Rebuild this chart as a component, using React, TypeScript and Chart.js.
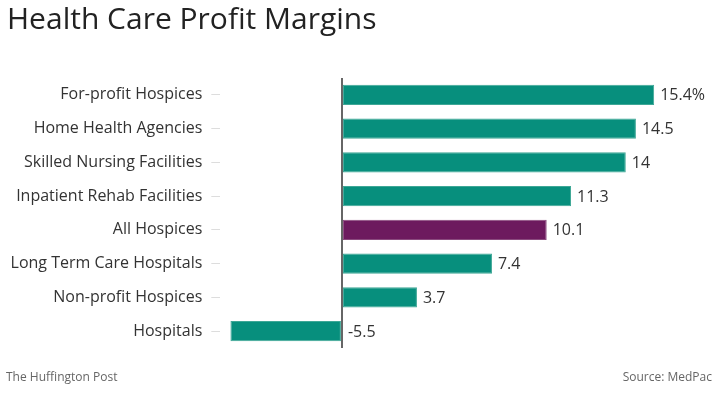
import React, { useEffect, useRef } from "react";
import { Chart, registerables } from "chart.js";

Chart.register(...registerables);

const categories = [
  "For-profit Hospices",
  "Home Health Agencies",
  "Skilled Nursing Facilities",
  "Inpatient Rehab Facilities",
  "All Hospices",
  "Long Term Care Hospitals",
  "Non-profit Hospices",
  "Hospitals",
];
const margins = [15.4, 14.5, 14, 11.3, 10.1, 7.4, 3.7, -5.5];
const valueLabels = ["15.4%", "14.5", "14", "11.3", "10.1", "7.4", "3.7", "-5.5"];
const highlighted = ["All Hospices"];

const TITLE = "Health Care Profit Margins";
const CREDIT = "The Huffington Post";
const SOURCE = "Source: MedPac";

const FONT = "'Open Sans', sans-serif";

export default function App() {
  const ref = useRef<HTMLCanvasElement | null>(null);

  useEffect(() => {
    if (!ref.current) return;
    const textPlugin = {
      id: "texts",
      afterDraw(chart: any) {
        const ctx = chart.ctx;
        ctx.save();
        // title
        ctx.fillStyle = "#222";
        ctx.font = `30px ${FONT}`;
        ctx.textAlign = "left";
        ctx.textBaseline = "alphabetic";
        ctx.fillText(TITLE, 7, 29);
        // footer
        ctx.fillStyle = "#666";
        ctx.font = `12px ${FONT}`;
        ctx.textBaseline = "middle";
        ctx.fillText(CREDIT, 6, 378);
        ctx.textAlign = "right";
        ctx.fillText(SOURCE, 712, 378);
        // value labels
        const meta = chart.getDatasetMeta(0);
        const xs = chart.scales.x;
        ctx.fillStyle = "#333";
        ctx.font = `16px ${FONT}`;
        ctx.textAlign = "left";
        ctx.textBaseline = "middle";
        meta.data.forEach((bar: any, i: number) => {
          const v = margins[i];
          const x = xs.getPixelForValue(Math.max(v, 0)) + 6;
          ctx.fillText(valueLabels[i], x, bar.y + 1);
        });
        ctx.restore();
      },
    };

    const chart = new Chart(ref.current, {
      type: "bar",
      data: {
        labels: categories,
        datasets: [
          {
            data: margins,
            backgroundColor: categories.map((c) =>
              highlighted.includes(c) ? "#6d1a5e" : "#078f7d"
            ),
            borderColor: categories.map((c) =>
              highlighted.includes(c) ? "#8a4a7e" : "#3ea796"
            ),
            borderWidth: 1,
            borderSkipped: false,
            categoryPercentage: 1,
            barPercentage: 0.593,
          },
        ],
      },
      options: {
        indexAxis: "y",
        animation: false,
        responsive: false,
        maintainAspectRatio: false,
        layout: { padding: { top: 78, bottom: 45, left: 0, right: 33.4 } },
        plugins: {
          legend: { display: false },
          tooltip: { enabled: false },
          title: { display: false },
        },
        scales: {
          x: {
            min: -6,
            max: 17,
            ticks: { display: false, stepSize: 1 },
            border: { display: false },
            grid: {
              drawTicks: false,
              lineWidth: 2,
              color: (ctx: any) =>
                ctx.tick && ctx.tick.value === 0 ? "#666" : "rgba(0,0,0,0)",
            },
          },
          y: {
            afterFit(axis: any) {
              axis.width = 220.3;
            },
            border: { display: false },
            grid: {
              offset: false,
              drawOnChartArea: false,
              drawTicks: true,
              tickLength: 9,
              color: "#dddddd",
              lineWidth: 1,
            },
            ticks: {
              padding: 9,
              color: "#333",
              font: { family: FONT, size: 16 },
            },
          },
        },
      },
      plugins: [textPlugin],
    });
    return () => chart.destroy();
  }, []);

  return (
    <div style={{ position: "fixed", left: 0, top: 0, width: 720, height: 393, background: "#fff" }}>
      <canvas ref={ref} width={720} height={393} style={{ width: 720, height: 393, display: "block" }} />
    </div>
  );
}
